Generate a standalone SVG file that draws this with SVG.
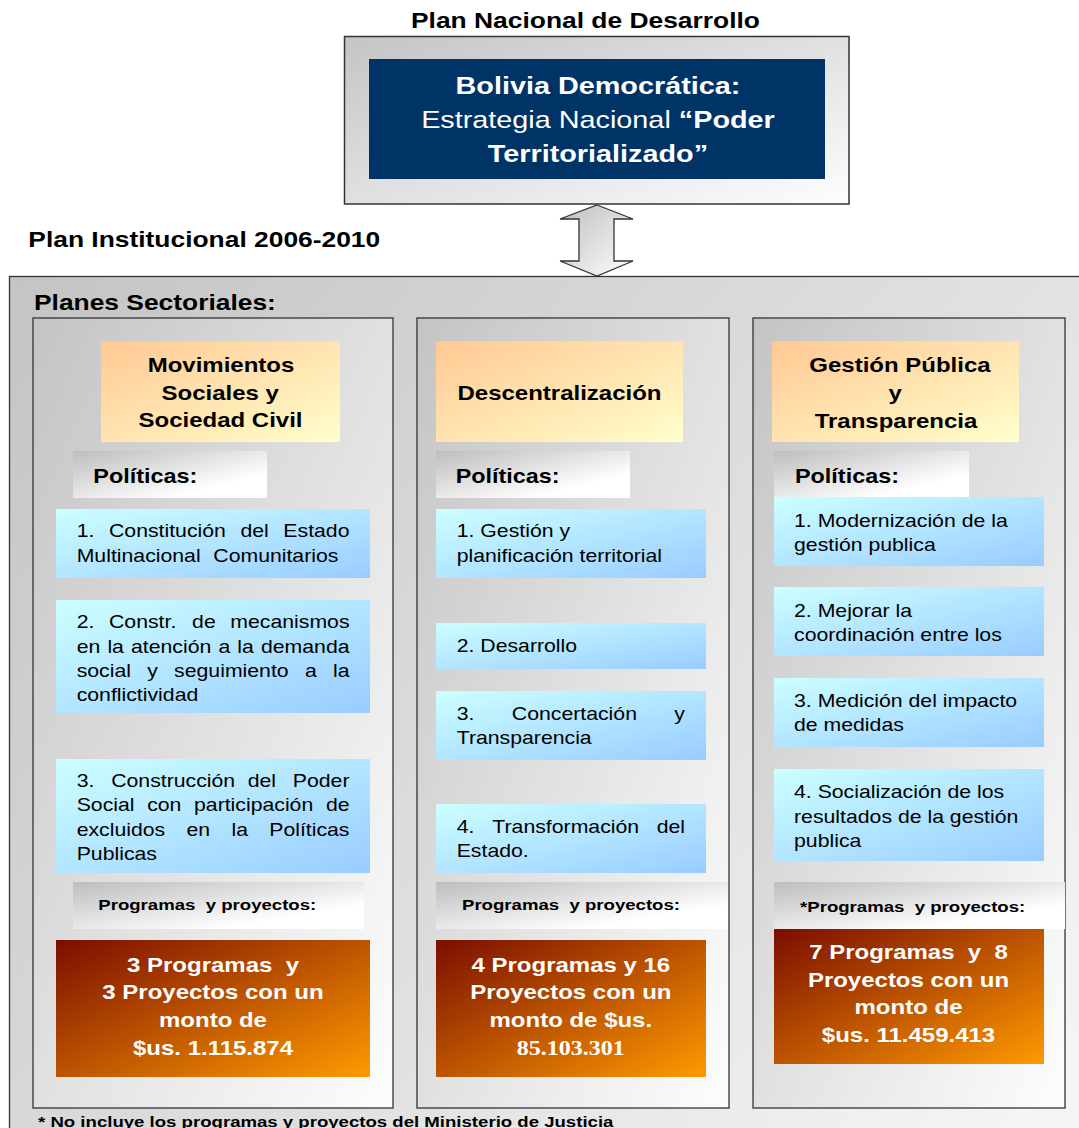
<svg xmlns="http://www.w3.org/2000/svg" width="1079" height="1128" viewBox="0 0 1079 1128">
<defs>
<linearGradient id="gOuter" gradientUnits="userSpaceOnUse" x1="9" y1="276" x2="1079" y2="1128"><stop offset="0" stop-color="#c4c4c4"/><stop offset="1" stop-color="#f6f6f6"/></linearGradient>
<linearGradient id="gFrame" x1="0" y1="0" x2="1" y2="1"><stop offset="0" stop-color="#c4c4c4"/><stop offset="1" stop-color="#fdfdfd"/></linearGradient>
<linearGradient id="gLabel" x1="0" y1="0" x2="1" y2="1"><stop offset="0" stop-color="#bdbdbd"/><stop offset="0.75" stop-color="#ffffff"/><stop offset="1" stop-color="#ffffff"/></linearGradient>
<linearGradient id="gHead" x1="0" y1="0" x2="1" y2="1"><stop offset="0" stop-color="#ffc893"/><stop offset="1" stop-color="#ffffcc"/></linearGradient>
<linearGradient id="gPol" x1="0" y1="0" x2="1" y2="1"><stop offset="0" stop-color="#ccffff"/><stop offset="1" stop-color="#99ccff"/></linearGradient>
<linearGradient id="gProg" x1="0" y1="0" x2="1" y2="1"><stop offset="0" stop-color="#7a0e00"/><stop offset="1" stop-color="#ff9a00"/></linearGradient>
<linearGradient id="gArrow" x1="0" y1="0" x2="1" y2="1"><stop offset="0" stop-color="#bdbdbd"/><stop offset="1" stop-color="#ffffff"/></linearGradient>
</defs>
<style>
text{font-family:"Liberation Sans",Arial,sans-serif;fill:#000}
.t22{font-size:22px;font-weight:bold}
.hd{font-size:20px;font-weight:bold;text-anchor:middle}
.pl{font-size:19.5px;font-weight:bold}
.bd{font-size:17.7px}
.pp{font-size:15.5px;font-weight:bold}
.pg{font-size:20px;font-weight:bold;text-anchor:middle;fill:#fff}
.frame{fill:url(#gFrame);stroke:#333;stroke-width:1.3}
.head{fill:url(#gHead)}
.lab{fill:url(#gLabel)}
.pol{fill:url(#gPol)}
.prog{fill:url(#gProg)}
</style>

<g id="title-pnd">
<text class="t22" transform="scale(1.2 1)" x="487.9" y="28" text-anchor="middle">Plan Nacional de Desarrollo</text>
</g>

<g id="pnd-box">
<rect x="344.5" y="36.5" width="504.5" height="167.5" fill="url(#gFrame)" stroke="#333" stroke-width="1.5"/>
<rect x="369" y="59" width="456" height="120" fill="#003366"/>
<text transform="scale(1.2 1)" style="font-size:24px;fill:#fff" text-anchor="middle"><tspan x="498.3" y="94.5" font-weight="bold">Bolivia Democrática:</tspan><tspan x="498.3" y="128.5">Estrategia Nacional <tspan font-weight="bold">“Poder</tspan></tspan><tspan x="498.3" y="162" font-weight="bold">Territorializado”</tspan></text>
</g>

<g id="title-pi">
<text class="t22" transform="scale(1.2 1)" x="23.6" y="247">Plan Institucional 2006-2010</text>
</g>

<g id="planes-sectoriales">
<rect x="9.5" y="276.5" width="1080" height="870" fill="url(#gOuter)" stroke="#333" stroke-width="1.3"/>
<text class="t22" transform="scale(1.2 1)" x="28.3" y="310">Planes Sectoriales:</text>
</g>

<g id="connectors">
<polygon points="597,205 633,219 614,219 614,261 633,261 597,276 560,261 579,261 579,219 560,219" fill="url(#gArrow)" stroke="#333" stroke-width="1.3"/>
</g>

<!-- Column 1 -->
<g id="col1">
<rect class="frame" x="33" y="318" width="360" height="790"/>
<g id="col1-head">
<rect class="head" x="101" y="341" width="239" height="101"/>
<text class="hd" transform="scale(1.2 1)"><tspan x="184.2" y="372">Movimientos</tspan><tspan x="183.5" y="400">Sociales y</tspan><tspan x="183.8" y="427">Sociedad Civil</tspan></text>
</g>
<g id="col1-politicas">
<rect class="lab" x="73" y="451" width="194" height="47"/>
<text class="pl" transform="scale(1.2 1)" x="77.75" y="483">Políticas:</text>
</g>
<g id="col1-p1">
<rect class="pol" x="56" y="509" width="314" height="69"/>
<text class="bd" transform="scale(1.2 1)"><tspan x="63.9" y="537">1.</tspan><tspan x="90.82" y="537">Constitución</tspan><tspan x="200.37" y="537">del</tspan><tspan x="236.14" y="537">Estado</tspan><tspan x="63.9" y="562">Multinacional</tspan><tspan x="177.75" y="562">Comunitarios</tspan></text>
</g>
<g id="col1-p2">
<rect class="pol" x="56" y="600" width="314" height="113"/>
<text class="bd" transform="scale(1.2 1)"><tspan x="63.9" y="628">2.</tspan><tspan x="90.84" y="628">Constr.</tspan><tspan x="160.07" y="628">de</tspan><tspan x="191.93" y="628">mecanismos</tspan><tspan x="63.9" y="653">en</tspan><tspan x="89.5" y="653">la</tspan><tspan x="109.19" y="653">atención</tspan><tspan x="182.02" y="653">a</tspan><tspan x="197.78" y="653">la</tspan><tspan x="217.47" y="653">demanda</tspan><tspan x="63.9" y="677">social</tspan><tspan x="122.7" y="677">y</tspan><tspan x="145.11" y="677">seguimiento</tspan><tspan x="254.09" y="677">a</tspan><tspan x="277.49" y="677">la</tspan><tspan x="63.9" y="701">conflictividad</tspan></text>
</g>
<g id="col1-p3">
<rect class="pol" x="56" y="759" width="314" height="114"/>
<text class="bd" transform="scale(1.2 1)"><tspan x="63.9" y="787">3.</tspan><tspan x="92.66" y="787">Construcción</tspan><tspan x="206.4" y="787">del</tspan><tspan x="244.01" y="787">Poder</tspan><tspan x="63.9" y="811">Social</tspan><tspan x="122.63" y="811">con</tspan><tspan x="161.69" y="811">participación</tspan><tspan x="271.57" y="811">de</tspan><tspan x="63.9" y="836">excluidos</tspan><tspan x="155.42" y="836">en</tspan><tspan x="192.85" y="836">la</tspan><tspan x="224.37" y="836">Políticas</tspan><tspan x="63.9" y="860">Publicas</tspan></text>
</g>
<g id="col1-pp-label">
<rect class="lab" x="73" y="882" width="291" height="47"/>
<text class="pp" transform="scale(1.2 1)" x="81.9" y="910">Programas&#160; y proyectos:</text>
</g>
<g id="col1-prog">
<rect class="prog" x="56" y="940" width="314" height="137"/>
<text class="pg" transform="scale(1.2 1)"><tspan x="177.5" y="972">3 Programas&#160; y</tspan><tspan x="177.5" y="999.5">3 Proyectos con un</tspan><tspan x="177.5" y="1027">monto de</tspan><tspan x="177.5" y="1055">$us. 1.115.874</tspan></text>
</g>
</g>

<!-- Column 2 -->
<g id="col2">
<rect class="frame" x="417" y="318" width="312" height="790"/>
<g id="col2-head">
<rect class="head" x="436" y="341" width="247" height="101"/>
<text class="hd" transform="scale(1.2 1)" x="466.25" y="400">Descentralización</text>
</g>
<g id="col2-politicas">
<rect class="lab" x="436" y="451" width="194" height="47"/>
<text class="pl" transform="scale(1.2 1)" x="379.75" y="483">Políticas:</text>
</g>
<g id="col2-p1">
<rect class="pol" x="436" y="509" width="270" height="69"/>
<text class="bd" transform="scale(1.2 1)"><tspan x="380.6" y="537">1. Gestión y</tspan><tspan x="380.6" y="562">planificación territorial</tspan></text>
</g>
<g id="col2-p2">
<rect class="pol" x="436" y="623" width="270" height="46"/>
<text class="bd" transform="scale(1.2 1)" x="380.6" y="652">2. Desarrollo</text>
</g>
<g id="col2-p3">
<rect class="pol" x="436" y="691" width="270" height="69"/>
<text class="bd" transform="scale(1.2 1)"><tspan x="380.6" y="720">3.</tspan><tspan x="426.53" y="720">Concertación</tspan><tspan x="561.97" y="720">y</tspan><tspan x="380.6" y="744">Transparencia</tspan></text>
</g>
<g id="col2-p4">
<rect class="pol" x="436" y="804" width="270" height="69"/>
<text class="bd" transform="scale(1.2 1)"><tspan x="380.6" y="833">4.</tspan><tspan x="410.31" y="833">Transformación</tspan><tspan x="547.21" y="833">del</tspan><tspan x="380.6" y="857">Estado.</tspan></text>
</g>
<g id="col2-pp-label">
<rect class="lab" x="436" y="882" width="292" height="47"/>
<text class="pp" transform="scale(1.2 1)" x="385" y="910">Programas&#160; y proyectos:</text>
</g>
<g id="col2-prog">
<rect class="prog" x="436" y="940" width="270" height="137"/>
<text class="pg" transform="scale(1.2 1)"><tspan x="475.7" y="972">4 Programas y 16</tspan><tspan x="475.7" y="999.5">Proyectos con un</tspan><tspan x="475.7" y="1027">monto de $us.</tspan><tspan x="475.7" y="1055" style="font-family:'Liberation Serif','Times New Roman',serif">85.103.301</tspan></text>
</g>
</g>

<!-- Column 3 -->
<g id="col3">
<rect class="frame" x="753" y="318" width="312" height="790"/>
<g id="col3-head">
<rect class="head" x="772" y="341" width="247" height="101"/>
<text class="hd" transform="scale(1.2 1)"><tspan x="750" y="372">Gestión Pública</tspan><tspan x="746" y="400">y</tspan><tspan x="746.7" y="428">Transparencia</tspan></text>
</g>
<g id="col3-politicas">
<rect class="lab" x="774" y="451" width="195" height="47"/>
<text class="pl" transform="scale(1.2 1)" x="662.5" y="483">Políticas:</text>
</g>
<g id="col3-p1">
<rect class="pol" x="774" y="497" width="270" height="69"/>
<text class="bd" transform="scale(1.2 1)"><tspan x="661.7" y="527">1. Modernización de la</tspan><tspan x="661.7" y="551">gestión publica</tspan></text>
</g>
<g id="col3-p2">
<rect class="pol" x="774" y="587" width="270" height="69"/>
<text class="bd" transform="scale(1.2 1)"><tspan x="661.7" y="617">2. Mejorar la</tspan><tspan x="661.7" y="641">coordinación entre los</tspan></text>
</g>
<g id="col3-p3">
<rect class="pol" x="774" y="678" width="270" height="69"/>
<text class="bd" transform="scale(1.2 1)"><tspan x="661.7" y="707">3. Medición del impacto</tspan><tspan x="661.7" y="731">de medidas</tspan></text>
</g>
<g id="col3-p4">
<rect class="pol" x="774" y="769" width="270" height="92"/>
<text class="bd" transform="scale(1.2 1)"><tspan x="661.7" y="798">4. Socialización de los</tspan><tspan x="661.7" y="823">resultados de la gestión</tspan><tspan x="661.7" y="847">publica</tspan></text>
</g>
<g id="col3-pp-label">
<rect class="lab" x="774" y="882" width="291" height="47"/>
<text class="pp" transform="scale(1.2 1)" x="666.7" y="912">*Programas&#160; y proyectos:</text>
</g>
<g id="col3-prog">
<rect class="prog" x="774" y="929" width="270" height="135"/>
<text class="pg" transform="scale(1.2 1)"><tspan x="757.1" y="959">7 Programas&#160; y&#160; 8</tspan><tspan x="757.1" y="987">Proyectos con un</tspan><tspan x="757.1" y="1014">monto de</tspan><tspan x="757.1" y="1042">$us. 11.459.413</tspan></text>
</g>
</g>

<g id="footnote">
<text class="pp" transform="scale(1.2 1)" x="31.7" y="1127">* No incluye los programas y proyectos del Ministerio de Justicia</text>
</g>
</svg>
